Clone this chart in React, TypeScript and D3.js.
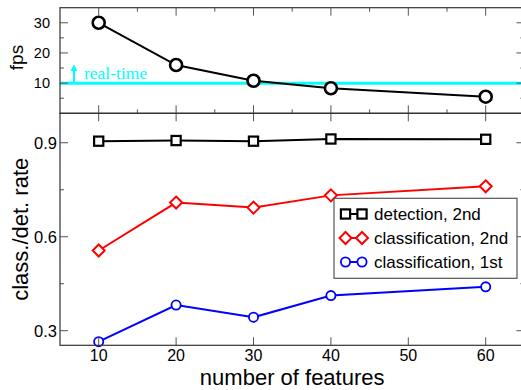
import * as d3 from 'd3';
import React from 'react';

// features on the x axis
const features = [10, 20, 30, 40, 60];
// top panel: frames per second
const fps = [30, 16, 10.8, 8.3, 5.5];
const realTime = 10;
// bottom panel: rates
const detection2nd = [0.905, 0.907, 0.905, 0.912, 0.911];
const classification2nd = [0.556, 0.709, 0.693, 0.732, 0.761];
const classification1st = [0.265, 0.382, 0.343, 0.412, 0.44];

const xMajor = [10, 20, 30, 40, 50, 60];
const xMinor = [15, 25, 35, 45, 55];
const fpsMajor = [10, 20, 30];
const fpsMinor = [5, 15, 25];
const rateMajor = [0.3, 0.6, 0.9];
const rateMinor = [0.45, 0.75];

const legendLabels = ['detection, 2nd', 'classification, 2nd', 'classification, 1st'];

const W = 521;
const H = 390;
const left = 60;
const right = 524.4;
const topY = 7.7;
const midY = 113.3;
const botY = 345.3;

const font = '"Liberation Sans", Arial, Helvetica, sans-serif';
const frameColor = '#333';
const tickColor = '#555';

export default function App() {
  const x = d3.scaleLinear().domain([5, 65]).range([left, right]);
  const yTop = d3.scaleLinear().domain([0, 35]).range([midY, topY]);
  const yBot = d3.scaleLinear().domain([0.2534, 0.994]).range([botY, midY]);

  const lineTop = d3.line<number>().x((_, i) => x(features[i])).y(d => yTop(d));
  const lineBot = d3.line<number>().x((_, i) => x(features[i])).y(d => yBot(d));

  const square = (cx: number, cy: number, color: string, key: string) => (
    <rect key={key} x={cx - 4.6} y={cy - 4.6} width={9.2} height={9.2} fill="white" stroke={color} strokeWidth={2.2} />
  );
  const diamond = (cx: number, cy: number, color: string, key: string) => (
    <path key={key} d={`M${cx},${cy - 6}L${cx + 6},${cy}L${cx},${cy + 6}L${cx - 6},${cy}Z`} fill="white" stroke={color} strokeWidth={2} />
  );
  const circle = (cx: number, cy: number, color: string, key: string, r = 4.6, sw = 1.8) => (
    <circle key={key} cx={cx} cy={cy} r={r} fill="white" stroke={color} strokeWidth={sw} />
  );

  const series = [
    { values: detection2nd, color: '#000', marker: square },
    { values: classification2nd, color: '#ff0000', marker: diamond },
    { values: classification1st, color: '#0000ff', marker: circle },
  ];

  return (
    <svg width={W} height={H} style={{ position: 'absolute', left: 0, top: 0, background: 'white' }}>
      {/* ---- top panel ---- */}
      <line x1={left} x2={right} y1={yTop(realTime)} y2={yTop(realTime)} stroke="#00ffff" strokeWidth={3} />
      <line x1={74} x2={74} y1={yTop(realTime)} y2={69} stroke="#00ffff" strokeWidth={2} />
      <path d="M74,64.5L70.5,71L77.5,71Z" fill="#00ffff" />
      <text x={84} y={79} fill="#00ffff" fontFamily='"Liberation Serif", "Times New Roman", serif' fontSize={17.5}>real-time</text>

      <path d={lineTop(fps) || ''} fill="none" stroke="#000" strokeWidth={2} />
      {fps.map((d, i) => circle(x(features[i]), yTop(d), '#000', 'f' + i, 6, 2.6))}

      {/* top frame ticks */}
      {xMajor.map(v => (
        <g key={'tx' + v} stroke={tickColor}>
          <line x1={x(v)} x2={x(v)} y1={topY} y2={topY + 8} />
          <line x1={x(v)} x2={x(v)} y1={midY} y2={midY - 8} />
        </g>
      ))}
      {xMinor.map(v => (
        <g key={'tm' + v} stroke={tickColor}>
          <line x1={x(v)} x2={x(v)} y1={topY} y2={topY + 4} />
          <line x1={x(v)} x2={x(v)} y1={midY} y2={midY - 4} />
        </g>
      ))}
      {fpsMajor.map(v => (
        <g key={'fy' + v}>
          <line x1={left} x2={left + 8} y1={yTop(v)} y2={yTop(v)} stroke={tickColor} />
          <line x1={right} x2={right - 8} y1={yTop(v)} y2={yTop(v)} stroke={tickColor} />
          <text x={50} y={yTop(v)} dy="0.36em" textAnchor="end" fontFamily={font} fontSize={14.5}>{v}</text>
        </g>
      ))}
      {fpsMinor.map(v => (
        <g key={'fm' + v} stroke={tickColor}>
          <line x1={left} x2={left + 4} y1={yTop(v)} y2={yTop(v)} />
          <line x1={right} x2={right - 4} y1={yTop(v)} y2={yTop(v)} />
        </g>
      ))}
      <rect x={left} y={topY} width={right - left} height={midY - topY} fill="none" stroke={frameColor} strokeWidth={1.2} />
      <text transform={`translate(23,${(topY + midY) / 2 - 3}) rotate(-90)`} textAnchor="middle" fontFamily={font} fontSize={19}>fps</text>

      {/* ---- bottom panel ---- */}
      {series.map((s, k) => (
        <g key={'s' + k}>
          <path d={lineBot(s.values) || ''} fill="none" stroke={s.color} strokeWidth={2} />
          {s.values.map((d, i) => s.marker(x(features[i]), yBot(d), s.color, `m${k}-${i}`))}
        </g>
      ))}

      {xMajor.map(v => (
        <g key={'bx' + v}>
          <line x1={x(v)} x2={x(v)} y1={midY} y2={midY + 8} stroke={tickColor} />
          <line x1={x(v)} x2={x(v)} y1={botY} y2={botY - 8} stroke={tickColor} />
          <text x={x(v)} y={360.5} textAnchor="middle" fontFamily={font} fontSize={16}>{v}</text>
        </g>
      ))}
      {rateMajor.map(v => (
        <g key={'ry' + v}>
          <line x1={left} x2={left + 8} y1={yBot(v)} y2={yBot(v)} stroke={tickColor} />
          <line x1={right} x2={right - 8} y1={yBot(v)} y2={yBot(v)} stroke={tickColor} />
          <text x={57} y={yBot(v)} dy="0.36em" textAnchor="end" fontFamily={font} fontSize={16.5}>{v.toFixed(1)}</text>
        </g>
      ))}
      {rateMinor.map(v => (
        <g key={'rm' + v} stroke={tickColor}>
          <line x1={left} x2={left + 4} y1={yBot(v)} y2={yBot(v)} />
          <line x1={right} x2={right - 4} y1={yBot(v)} y2={yBot(v)} />
        </g>
      ))}
      <rect x={left} y={midY} width={right - left} height={botY - midY} fill="none" stroke={frameColor} strokeWidth={1.2} />
      <text transform={`translate(28,${(midY + botY) / 2}) rotate(-90)`} textAnchor="middle" fontFamily={font} fontSize={22}>class./det. rate</text>
      <text x={(left + right) / 2} y={385} textAnchor="middle" fontFamily={font} fontSize={22}>number of features</text>

      {/* legend */}
      <rect x={334} y={198.3} width={183} height={80} fill="white" stroke="#555" strokeWidth={1.2} />
      {series.map((s, k) => {
        const ly = 214 + k * 24;
        return (
          <g key={'lg' + k}>
            <line x1={343} x2={364} y1={ly} y2={ly} stroke={s.color} strokeWidth={2} />
            {s.marker(345.5, ly, s.color, 'la' + k)}
            {s.marker(362, ly, s.color, 'lb' + k)}
            <text x={374} y={ly} dy="0.36em" fontFamily={font} fontSize={17}>{legendLabels[k]}</text>
          </g>
        );
      })}
    </svg>
  );
}
